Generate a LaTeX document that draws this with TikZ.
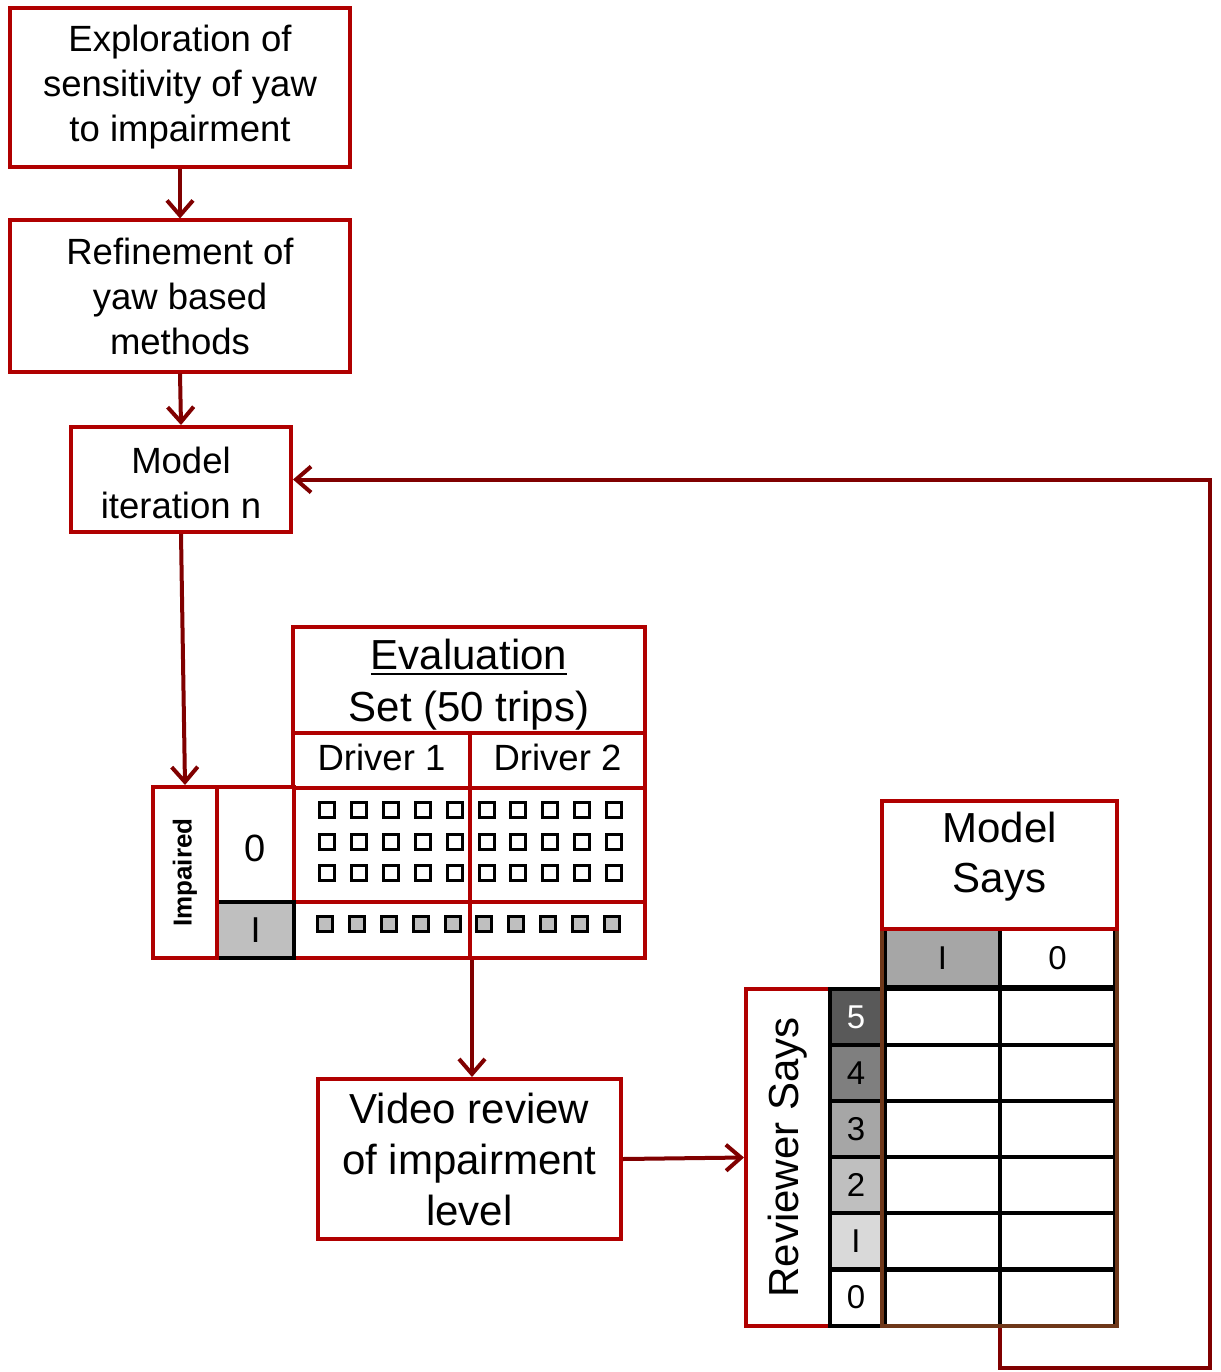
\documentclass[tikz,border=0pt]{standalone}
\usepackage{fontspec}
\setmainfont{Liberation Sans}
\newcommand{\myuline}[1]{\leavevmode\vtop{\hbox{#1}\kern2.5pt\hrule height 2.6pt}}
\usetikzlibrary{arrows.meta}
\definecolor{boxred}{RGB}{176,0,0}
\definecolor{arrred}{RGB}{128,0,0}
\definecolor{tblbrown}{RGB}{110,55,25}
\definecolor{gA}{RGB}{191,191,191}
\definecolor{gB}{RGB}{166,166,166}
\definecolor{gC}{RGB}{127,127,127}
\definecolor{gD}{RGB}{89,89,89}
\definecolor{gE}{RGB}{217,217,217}
\tikzset{
  box/.style={draw=boxred, line width=4pt, fill=white, align=center, inner sep=0pt,
    font=\fontsize{36.5}{45}\selectfont},
  bigtxt/.style={font=\fontsize{42}{51}\selectfont, align=center, inner sep=0pt},
  arr/.style={draw=arrred, line width=4pt, -{Straight Barb[length=15pt,width=26pt]}},
  sq/.style={draw=black, line width=2.4pt, minimum size=15pt, inner sep=0pt, fill=white},
  sqg/.style={sq, fill=gA},
  blk/.style={draw=black, line width=4pt, inner sep=0pt, align=center,
    font=\fontsize{33}{38}\selectfont},
  lvl/.style={blk, minimum width=52pt, minimum height=56pt},
  cell/.style={blk, fill=white, minimum width=115pt, minimum height=56pt},
}
\begin{document}
\begin{tikzpicture}[x=1pt,y=-1pt]
\useasboundingbox[fill=white] (0,0) rectangle (1220,1372);

% top flow
\node[box, minimum width=340pt, minimum height=159pt] (b1) at (180,87.5)
  {Exploration of\\sensitivity of yaw\\to impairment};
\node[box, minimum width=340pt, minimum height=151pt] (b2) at (180,296)
  {Refinement of\\yaw based\\methods};
\node[box, minimum width=220pt, minimum height=105pt] (b3) at (181,479.5) {};
\node[bigtxt, font=\fontsize{36.5}{45}\selectfont] (b3t) at (181,483) {Model\\iteration n};
\draw[arr] (b1.south) -- (b2.north);
\draw[arr] (b2.south) -- (b3.north);

% evaluation set table
\node[box, minimum width=352pt, minimum height=106pt] (ev) at (469,680) {};
\node[bigtxt, font=\fontsize{42}{52}\selectfont] (evt) at (469,685)
  {\myuline{Evaluation}\\Set (50 trips)};
\node[box, minimum width=177pt, minimum height=55pt] (d1) at (381.5,760.5) {};
\node[box, minimum width=175pt, minimum height=55pt] (d2) at (557.5,760.5) {};
\node[bigtxt, font=\fontsize{36.5}{45}\selectfont] (d1t) at (381.5,757) {Driver 1};
\node[bigtxt, font=\fontsize{36.5}{45}\selectfont] (d2t) at (557.5,757) {Driver 2};
\node[box, minimum width=177pt, minimum height=114pt] (r0a) at (381.5,845) {};
\node[box, minimum width=175pt, minimum height=114pt] (r0b) at (557.5,845) {};
\node[box, minimum width=177pt, minimum height=56pt] (r1a) at (381.5,930) {};
\node[box, minimum width=175pt, minimum height=56pt] (r1b) at (557.5,930) {};

\node[box, minimum width=77pt, minimum height=115pt] (z0) at (255.5,844.5) {};
\node[bigtxt, font=\fontsize{38}{45}\selectfont] (z0t) at (255.5,848) {0};
\node[blk, fill=gA, minimum width=77pt, minimum height=56pt, font=\fontsize{36}{40}\selectfont] (z1) at (255.5,930) {I};
\node[box, rotate=90, minimum width=171pt, minimum height=64pt,
  font=\fontsize{26}{30}\selectfont\bfseries] (imp) at (185,872.5) {Impaired};

\foreach \y [count=\r] in {810,842,873}{
  \foreach \x [count=\c] in {327,359,391,423,455,487,518,550,582,614}{
    \node[sq] (s\r-\c) at (\x,\y) {};
  }
}
\foreach \x [count=\c] in {325,357,389,421,453,484,516,548,580,612}{
  \node[sqg] (g-\c) at (\x,924) {};
}

\draw[arr] (b3.south) -- (imp.east);

% video review
\node[box, minimum width=303pt, minimum height=160pt, font=\fontsize{42}{51}\selectfont] (vid) at (469.5,1159)
  {Video review\\of impairment\\level};
\draw[arr] (r1a.south east) -- (r1a.south east |- vid.north);

% reviewer says
\node[box, rotate=90, minimum width=337pt, minimum height=84pt, font=\fontsize{42}{51}\selectfont] (rs) at (788,1157.5)
  {Reviewer Says};
\draw[arr] (vid.east) -- (rs.north);

\node[lvl, fill=gD, text=white] (l5) at (856,1017) {5};
\node[lvl, fill=gC] (l4) at (856,1073) {4};
\node[lvl, fill=gB] (l3) at (856,1129) {3};
\node[lvl, fill=gA] (l2) at (856,1185) {2};
\node[lvl, fill=gE] (l1) at (856,1241) {I};
\node[lvl, fill=white] (l0) at (856,1297.5) {0};

\foreach \y [count=\r] in {1017,1073,1129,1185,1241,1297.5}{
  \node[cell] (c\r-1) at (942.5,\y) {};
  \node[cell] (c\r-2) at (1057.5,\y) {};
}
\node[cell, fill=gB, minimum height=58pt] (h1) at (942.5,958) {I};
\node[cell, minimum height=58pt] (h0) at (1057.5,958) {0};

\node[draw=tblbrown, line width=3.5pt, minimum width=235pt, minimum height=397pt, inner sep=0pt] (tbl) at (999.5,1127.5) {};

\node[box, minimum width=235pt, minimum height=128pt] (ms) at (999.5,865) {};
\node[bigtxt, font=\fontsize{42}{50}\selectfont] (mst) at (999.5,857) {Model\\Says};

% feedback loop
\coordinate (fbr) at (1210,1368);
\draw[arr] (tbl.south) |- (fbr) |- (b3.east);
\end{tikzpicture}
\end{document}
